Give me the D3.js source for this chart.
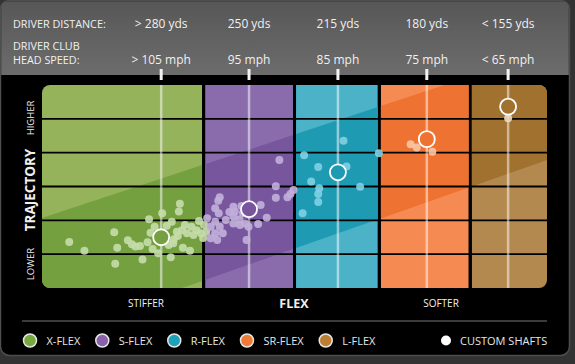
<!DOCTYPE html>
<html>
<head>
<meta charset="utf-8">
<script src="https://cdn.jsdelivr.net/npm/d3@7"></script>
<style>
  body { margin: 0; background: #333; }
  svg { display: block; font-family: "Open Sans", "Noto Sans", sans-serif; }
</style>
</head>
<body>
<script>
// flex categories
var flexNames = ["X-FLEX", "S-FLEX", "R-FLEX", "SR-FLEX", "L-FLEX"];
var distanceLabels = ["> 280 yds", "250 yds", "215 yds", "180 yds", "< 155 yds"];
var speedLabels = ["> 105 mph", "95 mph", "85 mph", "75 mph", "< 65 mph"];
var flexStart = [0, 32.3, 50.3, 67.1, 85.1];
var flexEnd = [31.7, 49.7, 66.5, 84.5, 100];

// custom shafts, [flex, trajectory]
var customFlex = [23.6, 41.0, 58.6, 76.2, 92.3];
var customTrajectory = [1.50, 2.33, 3.42, 4.40, 5.36];

// player points, [flex, trajectory]
var xFlexPoints = [[5.4,1.36],[8.4,1.10],[14.3,1.65],[14.9,1.19],[14.5,0.72],[17.0,1.41],[17.8,1.29],
  [18.5,1.23],[19.4,1.24],[19.9,0.84],[20.9,1.35],[21.2,2.03],[21.5,1.63],[21.9,1.15],[22.3,1.81],
  [23.0,1.03],[23.8,2.21],[24.7,1.84],[25.1,1.27],[25.5,0.91],[25.7,1.96],[26.1,1.44],[26.7,1.66],
  [27.1,2.26],[27.3,2.49],[27.7,1.71],[27.9,1.19],[28.3,1.86],[28.7,1.62],[29.3,1.10],[29.6,1.81],
  [30.0,1.57],[30.6,1.71],[31.1,1.98],[31.5,1.62],[26.0,1.32],[26.9,1.54],[32.1,1.86],[32.5,1.66],[31.9,1.48]];
var sFlexPoints = [[47.0,3.78],[46.3,3.01],[46.3,2.67],[48.6,2.68],[49.2,2.78],[49.8,2.90],[35.2,2.68],
  [34.9,2.58],[34.3,2.36],[32.7,2.06],[35.0,2.21],[36.4,2.01],[34.3,1.96],[33.4,1.81],[35.2,1.81],
  [35.8,1.62],[34.3,1.62],[33.4,1.47],[34.7,1.42],[37.9,2.40],[38.2,2.26],[37.9,2.11],[39.1,2.03],
  [37.9,1.91],[39.2,1.86],[40.2,1.91],[40.9,1.81],[40.5,1.42],[42.8,1.89],[43.3,2.45],[44.5,2.08],
  [39.5,2.42],[37.1,2.25],[39.8,2.22]];
var rFlexPoints = [[59.7,4.35],[51.9,3.92],[54.7,3.58],[60.3,3.59],[53.3,3.15],[54.9,2.95],[54.7,2.78],
  [54.7,2.54],[51.6,2.21],[63.0,2.99],[66.7,3.98]];
var srFlexPoints = [[73.0,4.25],[74.2,4.15],[77.3,4.03]];
var lFlexPoints = [[92.3,5.02]];
var flexPoints = [xFlexPoints, sFlexPoints, rFlexPoints, srFlexPoints, lFlexPoints];

// colours
var lightColor = ["#94b35b", "#8a6cad", "#4bb2c7", "#f58b52", "#b3894f"];
var darkColor = ["#74a040", "#77569e", "#1f9ab3", "#ee7231", "#a1712f"];
var dotColor = ["#c6dbaa", "#c2b0da", "#80d2e2", "#f8c7a7", "#eadabf"];
var legendColor = ["#76a93f", "#8a5fab", "#1aa3bb", "#f07a35", "#bb7f33"];

var W = 575, H = 364;
var svg = d3.select("body").append("svg").attr("width", W).attr("height", H);

var x = d3.scaleLinear().domain([0, 100]).range([42, 547]);
var y = d3.scaleLinear().domain([0, 6]).range([288, 85]);

var defs = svg.append("defs");
var grad = defs.append("linearGradient").attr("id", "hdr").attr("x1", 0).attr("y1", 0).attr("x2", 0).attr("y2", 1);
grad.append("stop").attr("offset", "0%").attr("stop-color", "#575757");
grad.append("stop").attr("offset", "100%").attr("stop-color", "#6c6c6c");

defs.append("clipPath").attr("id", "plotClip")
  .append("rect")
  .attr("x", x(0)).attr("y", y(6))
  .attr("width", x(100) - x(0)).attr("height", y(0) - y(6))
  .attr("rx", 8);

// card
svg.append("rect").attr("width", W).attr("height", H).attr("fill", "#333");
svg.append("rect")
  .attr("x", 0.5).attr("y", 0.5).attr("width", 569).attr("height", 355)
  .attr("rx", 9).attr("fill", "#000").attr("stroke", "#4e4e4e").attr("stroke-width", 1.5);
svg.append("path")
  .attr("d", "M1.2,75 L1.2,9 Q1.2,1.2 9,1.2 L561,1.2 Q568.8,1.2 568.8,9 L568.8,75 Z")
  .attr("fill", "url(#hdr)");

// panels
var plot = svg.append("g").attr("clip-path", "url(#plotClip)");
flexNames.forEach(function(name, i) {
  defs.append("clipPath").attr("id", "panel" + i)
    .append("rect")
    .attr("x", x(flexStart[i])).attr("y", y(6))
    .attr("width", x(flexEnd[i]) - x(flexStart[i]))
    .attr("height", y(0) - y(6));
  var g = plot.append("g").attr("clip-path", "url(#panel" + i + ")");
  g.append("rect")
    .attr("x", x(flexStart[i])).attr("y", y(6))
    .attr("width", x(flexEnd[i]) - x(flexStart[i]))
    .attr("height", y(0) - y(6))
    .attr("fill", lightColor[i]);
  // darker diagonal band
  var band = [[0, 2.07], [100, 7.0], [100, 3.78], [0, -1.45]];
  g.append("path")
    .attr("d", d3.line().x(function(d) { return x(d[0]); }).y(function(d) { return y(d[1]); })(band) + "Z")
    .attr("fill", darkColor[i]);
});

// trajectory grid
plot.selectAll(".grid")
  .data(d3.range(1, 6))
  .enter().append("line")
  .attr("x1", x(0)).attr("x2", x(100))
  .attr("y1", function(d) { return y(d); })
  .attr("y2", function(d) { return y(d); })
  .attr("stroke", "#000").attr("stroke-width", 1.8);

// vertical lines at custom shafts
plot.selectAll(".vline")
  .data(customFlex)
  .enter().append("line")
  .attr("x1", function(d) { return x(d); }).attr("x2", function(d) { return x(d); })
  .attr("y1", y(6)).attr("y2", y(0))
  .attr("stroke", "#fff").attr("stroke-opacity", 0.5).attr("stroke-width", 2.5);

// ticks
svg.selectAll(".tick")
  .data(customFlex)
  .enter().append("rect")
  .attr("x", function(d) { return x(d) - 1.5; })
  .attr("y", 69).attr("width", 3).attr("height", 11)
  .attr("fill", "#f2f2f2");

// header text
var hdr = svg.append("g").attr("fill", "#f0f0f0");
hdr.append("text").attr("x", 13).attr("y", 28).attr("font-size", 10.8).text("DRIVER DISTANCE:");
hdr.append("text").attr("x", 13).attr("y", 50).attr("font-size", 10.8).text("DRIVER CLUB");
hdr.append("text").attr("x", 13).attr("y", 63.5).attr("font-size", 10.8).text("HEAD SPEED:");
hdr.selectAll(".dist")
  .data(distanceLabels)
  .enter().append("text")
  .attr("x", function(d, i) { return x(customFlex[i]); })
  .attr("y", 28).attr("font-size", 12).attr("text-anchor", "middle")
  .text(function(d) { return d; });
hdr.selectAll(".speed")
  .data(speedLabels)
  .enter().append("text")
  .attr("x", function(d, i) { return x(customFlex[i]); })
  .attr("y", 63.5).attr("font-size", 12).attr("text-anchor", "middle")
  .text(function(d) { return d; });

// points
flexPoints.forEach(function(pts, i) {
  svg.append("g").selectAll("circle")
    .data(pts)
    .enter().append("circle")
    .attr("cx", function(d) { return x(d[0]); })
    .attr("cy", function(d) { return y(d[1]); })
    .attr("r", 4)
    .attr("fill", dotColor[i])
    .attr("fill-opacity", 0.9);
});

// custom shafts
svg.append("g").selectAll("circle")
  .data(customFlex)
  .enter().append("circle")
  .attr("cx", function(d) { return x(d); })
  .attr("cy", function(d, i) { return y(customTrajectory[i]); })
  .attr("r", 8)
  .attr("fill", function(d, i) { return darkColor[i]; })
  .attr("stroke", "#fff").attr("stroke-width", 1.8);

// axis labels
var ax = svg.append("g").attr("fill", "#f0f0f0");
ax.append("text").attr("transform", "translate(34,118) rotate(-90)")
  .attr("text-anchor", "middle").attr("font-size", 9.5).text("HIGHER");
ax.append("text").attr("transform", "translate(34.5,190) rotate(-90)")
  .attr("text-anchor", "middle").attr("font-size", 13.5).attr("font-weight", "bold").text("TRAJECTORY");
ax.append("text").attr("transform", "translate(34,264) rotate(-90)")
  .attr("text-anchor", "middle").attr("font-size", 9.5).text("LOWER");
ax.append("text").attr("x", 146).attr("y", 307).attr("text-anchor", "middle").attr("font-size", 10).text("STIFFER");
ax.append("text").attr("x", 294).attr("y", 307.5).attr("text-anchor", "middle").attr("font-size", 12.5)
  .attr("font-weight", "bold").text("FLEX");
ax.append("text").attr("x", 441).attr("y", 307).attr("text-anchor", "middle").attr("font-size", 10).text("SOFTER");

svg.append("line").attr("x1", 22).attr("x2", 547).attr("y1", 321).attr("y2", 321)
  .attr("stroke", "#777").attr("stroke-width", 1);

// legend
var leg = svg.append("g");
var lx = 30;
flexNames.forEach(function(name, i) {
  leg.append("circle").attr("cx", lx).attr("cy", 340.5).attr("r", 6.5)
    .attr("fill", legendColor[i]).attr("stroke", "#e6e6e6").attr("stroke-width", 1.5);
  var t = leg.append("text").attr("x", lx + 16.5).attr("y", 344.8)
    .attr("font-size", 11).attr("fill", "#e6e6e6").text(name);
  lx += 16.5 + t.node().getComputedTextLength() + 22;
});
leg.append("circle").attr("cx", 446).attr("cy", 340.5).attr("r", 5).attr("fill", "#fff");
leg.append("text").attr("x", 460).attr("y", 344.8).attr("font-size", 11).attr("fill", "#e6e6e6").text("CUSTOM SHAFTS");
</script>
</body>
</html>
